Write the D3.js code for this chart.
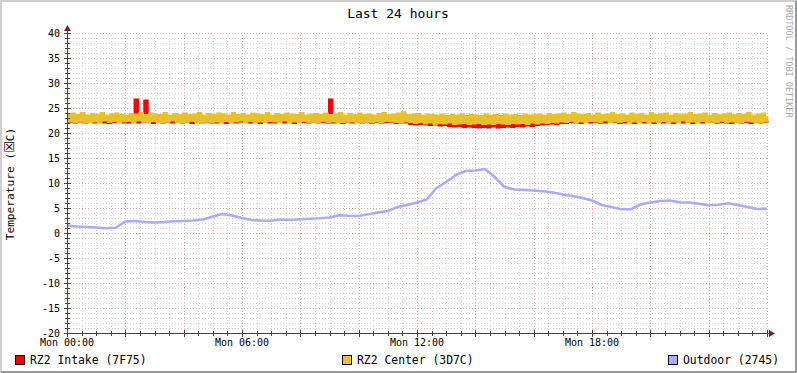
<!DOCTYPE html>
<html>
<head>
<meta charset="utf-8">
<script src="https://cdn.jsdelivr.net/npm/d3@7"></script>
<style>
body { margin: 0; background: #fff; }
text { font-family: "DejaVu Sans Mono", monospace; }
</style>
</head>
<body>
<div id="chart"></div>
<script>
// 5 minute samples, one row = one hour
const stepHours = 5 / 60;
const intake = [
  22.6,22.3,22.5,22.2,22.7,22.4,22.5,22.2,22.6,22.3,22.4,22.2,
  22.5,22.4,22.6,22.2,22.4,22.1,22.6,22.3,22.5,22.4,22.7,22.2,
  22.6,22.2,22.5,22.3,26.6,22.2,22.6,22.4,26.4,22.3,22.5,22.1,
  22.6,22.3,22.5,22.2,22.7,22.4,22.4,22.2,22.6,22.3,22.5,22.2,
  22.4,22.4,22.6,22.1,22.5,22.3,22.7,22.2,22.4,22.4,22.6,22.2,
  22.5,22.2,22.6,22.4,22.4,22.1,22.7,22.3,22.5,22.2,22.6,22.4,
  22.6,22.3,22.4,22.2,22.5,22.4,22.6,22.1,22.7,22.3,22.5,22.2,
  22.5,22.2,22.6,22.3,22.4,22.2,22.7,22.4,22.5,22.1,22.6,22.3,
  22.4,22.3,22.5,22.2,22.6,22.4,22.4,22.2,22.7,22.3,22.5,22.2,
  26.6,22.2,22.6,22.3,22.5,22.1,22.4,22.4,22.6,22.2,22.5,22.3,
  22.7,22.2,22.5,22.4,22.6,22.1,22.4,22.3,22.5,22.2,22.6,22.3,
  22.5,22.3,22.6,22.1,22.4,22.2,22.7,22.2,22.5,21.9,22.4,21.8,
  22.3,21.9,22.4,21.8,22.2,21.7,22.3,21.8,22.1,21.6,22.2,21.7,
  22.1,21.5,22.0,21.4,22.1,21.5,21.9,21.3,22.0,21.4,21.9,21.3,
  21.9,21.2,22.0,21.3,21.8,21.2,21.9,21.4,21.8,21.2,22.0,21.3,
  21.9,21.4,21.8,21.3,22.0,21.5,21.9,21.4,22.1,21.6,22.0,21.5,
  22.2,21.7,22.1,21.8,22.3,21.9,22.2,22.0,22.4,21.9,22.3,22.1,
  22.5,22.1,22.6,22.3,22.4,22.2,22.5,22.1,22.6,22.4,22.4,22.2,
  22.6,22.3,22.5,22.1,22.7,22.2,22.4,22.4,22.5,22.3,22.6,22.1,
  22.4,22.2,22.6,22.4,22.5,22.1,22.7,22.3,22.4,22.2,22.6,22.4,
  22.5,22.1,22.6,22.3,22.4,22.2,22.5,22.4,22.7,22.1,22.6,22.3,
  22.6,22.2,22.4,22.3,22.5,22.1,22.6,22.4,22.5,22.2,22.7,22.3,
  22.5,22.4,22.6,22.1,22.4,22.3,22.5,22.2,22.6,22.1,22.5,22.4,
  22.4,22.2,22.6,22.3,22.5,22.1,22.7,22.4,22.5,22.2,22.6,22.3,
  22.4
];
const center = [
  23.6,22.4,23.8,22.3,23.5,22.5,23.9,22.2,23.4,22.3,23.7,22.4,
  23.5,22.2,23.9,22.6,23.4,22.3,23.6,22.5,23.8,22.2,23.5,22.4,
  23.4,22.5,23.7,22.3,23.6,22.6,23.9,22.4,23.5,22.3,23.8,22.5,
  23.6,22.3,23.5,22.2,23.9,22.4,23.4,22.6,23.7,22.3,23.5,22.2,
  23.8,22.4,23.5,22.5,23.6,22.3,23.9,22.2,23.4,22.5,23.7,22.3,
  23.5,22.4,23.8,22.2,23.6,22.5,23.4,22.3,23.9,22.4,23.5,22.6,
  23.7,22.3,23.4,22.5,23.8,22.2,23.6,22.4,23.5,22.3,23.9,22.5,
  23.4,22.4,23.7,22.3,23.5,22.6,23.8,22.2,23.6,22.4,23.5,22.3,
  23.9,22.5,23.4,22.3,23.6,22.4,23.7,22.2,23.5,22.5,23.8,22.3,
  23.5,22.4,23.6,22.2,23.9,22.3,23.4,22.5,23.7,22.4,23.5,22.2,
  23.8,22.3,23.5,22.5,23.6,22.2,23.4,22.4,23.7,22.3,23.9,22.5,
  23.5,22.4,23.6,22.3,23.8,22.2,24.1,22.4,23.5,22.3,23.6,22.1,
  23.7,22.3,23.4,22.0,23.6,22.2,23.5,21.9,23.4,22.1,23.6,22.0,
  23.3,22.2,23.5,21.9,23.4,22.0,23.6,22.1,23.3,21.9,23.5,22.0,
  23.4,22.1,23.3,21.9,23.6,22.0,23.4,21.9,23.5,22.1,23.3,22.0,
  23.6,21.9,23.4,22.1,23.5,22.0,23.3,22.1,23.6,21.9,23.4,22.2,
  23.5,22.0,23.6,22.2,23.4,22.1,23.7,22.3,23.5,22.2,23.6,22.4,
  23.8,22.3,23.5,22.5,23.9,22.2,23.6,22.4,23.5,22.3,23.7,22.5,
  23.4,22.4,23.8,22.2,23.5,22.6,23.6,22.3,23.9,22.4,23.5,22.3,
  23.6,22.5,23.4,22.2,23.8,22.4,23.5,22.3,23.7,22.5,23.4,22.2,
  23.9,22.4,23.5,22.3,23.6,22.5,23.8,22.2,23.4,22.4,23.7,22.3,
  23.5,22.6,23.6,22.3,23.9,22.4,23.5,22.2,23.6,22.5,23.8,22.3,
  23.4,22.4,23.7,22.2,23.5,22.5,23.6,22.3,23.8,22.4,23.5,22.2,
  23.7,22.3,23.5,22.5,23.9,22.4,23.4,22.2,23.6,22.3,23.8,22.4,
  23.3
];
// 20 minute samples
const outdoorStep = 20 / 60;
const outdoor = [
  1.5,1.3,1.2,1.1,0.95,1.05,2.3,2.4,2.2,2.1,2.2,2.35,
  2.4,2.5,2.7,3.3,3.8,3.5,3.0,2.6,2.5,2.45,2.7,2.6,
  2.75,2.85,2.95,3.1,3.55,3.45,3.4,3.75,4.1,4.4,5.2,5.6,
  6.1,6.7,9.0,10.2,11.6,12.4,12.5,12.8,11.2,9.2,8.7,8.6,
  8.5,8.35,8.1,7.7,7.4,7.0,6.5,5.6,5.2,4.75,4.75,5.7,
  6.1,6.4,6.5,6.15,6.1,5.85,5.55,5.65,5.95,5.6,5.2,4.8,
  4.85
];
const xLabels = ["Mon 00:00", "Mon 06:00", "Mon 12:00", "Mon 18:00"];
const xLabelHours = [0, 6, 12, 18];
const yTicks = [-20, -15, -10, -5, 0, 5, 10, 15, 20, 25, 30, 35, 40];
const legendNames = ["RZ2 Intake (7F75)", "RZ2 Center (3D7C)", "Outdoor (2745)"];
const legendColors = ["#ff0000", "#e8c028", "#aaaaff"];

const W = 797, H = 373;
const svg = d3.select("#chart").append("svg")
  .attr("width", W).attr("height", H);

// background + 3d border
svg.append("rect").attr("width", W).attr("height", H).attr("fill", "#fff");
svg.append("path").attr("d", `M1,${H} V1 H${W}`).attr("fill", "none")
  .attr("stroke", "#cfcfcf").attr("stroke-width", 2);
svg.append("path").attr("d", `M1,${H - 1} H${W - 1} V1`).attr("fill", "none")
  .attr("stroke", "#9a9a9a").attr("stroke-width", 2);

const x = d3.scaleLinear().domain([0, 24]).range([67, 767]);
const y = d3.scaleLinear().domain([-20, 40]).range([333, 33]);

// grid
const grid = svg.append("g").attr("shape-rendering", "crispEdges");
d3.range(-20, 41, 1).filter(v => v % 5 != 0).forEach(v => {
  grid.append("line").attr("x1", x(0)).attr("x2", x(24)).attr("y1", y(v) + 0.5).attr("y2", y(v) + 0.5)
    .attr("stroke", "#d6d6d6").attr("stroke-dasharray", "1,2");
});
d3.range(0.5, 24.01, 0.5).filter(h => h % 2 != 0).forEach(h => {
  grid.append("line").attr("x1", Math.round(x(h)) + 0.5).attr("x2", Math.round(x(h)) + 0.5)
    .attr("y1", y(-20)).attr("y2", y(40))
    .attr("stroke", "#d6d6d6").attr("stroke-dasharray", "1,2");
});
yTicks.forEach(v => {
  grid.append("line").attr("x1", x(0)).attr("x2", x(24)).attr("y1", y(v) + 0.5).attr("y2", y(v) + 0.5)
    .attr("stroke", "#eeaaaa").attr("stroke-dasharray", "1,2");
});
d3.range(2, 24.01, 2).forEach(h => {
  grid.append("line").attr("x1", Math.round(x(h)) + 0.5).attr("x2", Math.round(x(h)) + 0.5)
    .attr("y1", y(-20)).attr("y2", y(40))
    .attr("stroke", "#eeaaaa").attr("stroke-dasharray", "1,2");
});

// data lines
const step = d3.line().curve(d3.curveStepAfter);
svg.append("path")
  .attr("d", step(intake.map((v, i) => [x(i * stepHours), y(v)])))
  .attr("fill", "none").attr("stroke", legendColors[0]).attr("stroke-width", 3);
svg.append("path")
  .attr("d", step(center.map((v, i) => [x(i * stepHours), y(v)])))
  .attr("fill", "none").attr("stroke", legendColors[1]).attr("stroke-width", 3);
svg.append("path")
  .attr("d", d3.line()(outdoor.map((v, i) => [x(i * outdoorStep), y(v)])))
  .attr("fill", "none").attr("stroke", legendColors[2]).attr("stroke-width", 2.6)
  .attr("stroke-linejoin", "round");

// axes
const ax = svg.append("g").attr("shape-rendering", "crispEdges");
ax.append("line").attr("x1", 64).attr("x2", 770).attr("y1", y(-20) + 0.5).attr("y2", y(-20) + 0.5)
  .attr("stroke", "#4a4040");
ax.append("line").attr("x1", x(0) + 0.5).attr("x2", x(0) + 0.5).attr("y1", 336).attr("y2", 29)
  .attr("stroke", "#4a4040");
d3.range(-20, 41, 1).forEach(v => {
  const len = v % 5 == 0 ? 3 : 2;
  ax.append("line").attr("x1", x(0) - len).attr("x2", x(0) + len + 1).attr("y1", y(v) + 0.5).attr("y2", y(v) + 0.5)
    .attr("stroke", "#4a4040");
});
d3.range(0, 24.01, 0.5).forEach(h => {
  const len = h % 2 == 0 ? 3 : 2;
  ax.append("line").attr("x1", Math.round(x(h)) + 0.5).attr("x2", Math.round(x(h)) + 0.5)
    .attr("y1", y(-20) - len).attr("y2", y(-20) + len + 1)
    .attr("stroke", "#4a4040");
});
svg.append("path").attr("d", "M64,31 L71,31 L67.5,25 Z").attr("fill", "#7f1f1f");
svg.append("path").attr("d", "M769,330 L769,337 L775,333.5 Z").attr("fill", "#7f1f1f");

svg.append("g").selectAll("text").data(yTicks).join("text")
  .attr("x", 60).attr("y", d => y(d)).attr("dy", "0.36em")
  .attr("text-anchor", "end").attr("font-size", "10px").attr("fill", "#000")
  .text(d => d);
svg.append("g").selectAll("text").data(xLabelHours).join("text")
  .attr("x", d => x(d)).attr("y", 346)
  .attr("text-anchor", "middle").attr("font-size", "10px").attr("fill", "#000")
  .text((d, i) => xLabels[i]);

// titles
svg.append("text").attr("x", 398).attr("y", 18).attr("text-anchor", "middle")
  .attr("font-size", "13px").text("Last 24 hours");
const yTitle = svg.append("text").attr("transform", "translate(14,184) rotate(-90)")
  .attr("text-anchor", "middle").attr("font-size", "11.2px");
yTitle.append("tspan").text("Temperature (");
yTitle.append("tspan").attr("font-family", "DejaVu Sans").attr("font-size", "13px").text("☒");
yTitle.append("tspan").text("C)");
svg.append("text").attr("transform", "translate(786,5) rotate(90)")
  .attr("text-anchor", "start").attr("font-size", "8.5px").attr("fill", "#a8a8a8")
  .text("RRDTOOL / TOBI OETIKER");

// legend
const legendX = [15, 342, 668];
const lg = svg.append("g").selectAll("g").data(legendNames).join("g")
  .attr("transform", (d, i) => `translate(${legendX[i]},355)`);
lg.append("rect").attr("x", 0.5).attr("y", 0.5).attr("width", 9).attr("height", 9)
  .attr("fill", (d, i) => legendColors[i]).attr("stroke", "#000");
lg.append("text").attr("x", 15).attr("y", 8.5).attr("font-size", "11.4px").text(d => d);
</script>
</body>
</html>
